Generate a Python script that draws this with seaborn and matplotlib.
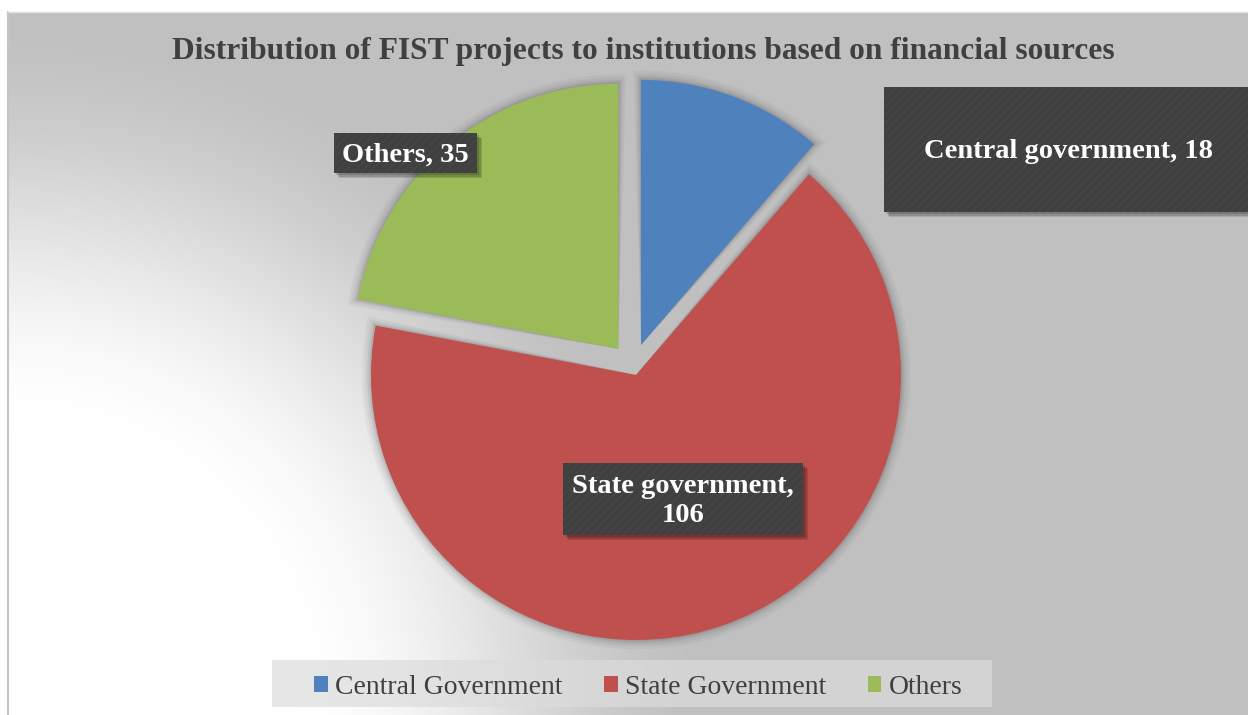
import numpy as np
import matplotlib
matplotlib.use("Agg")
import matplotlib.pyplot as plt
import seaborn as sns
from matplotlib.patches import Rectangle, Patch, Wedge

# Data
categories = ["Central Government", "State Government", "Others"]
label_names = ["Central government", "State government", "Others"]
values = [18, 106, 35]
colors = ["#4F81BD", "#C0504D", "#9BBB59"]
explode = [0.087, 0.034, 0.087]
title = "Distribution of FIST projects to institutions based on financial sources"

sns.set_theme(style="white")
plt.rcParams["font.family"] = ["Liberation Serif", "DejaVu Serif"]
plt.rcParams["hatch.linewidth"] = 0.6

W, H = 1248, 715
fig = plt.figure(figsize=(W / 100, H / 100), dpi=100)
fig.patch.set_facecolor("white")

# Background: radial fade from white (lower left) to grey
bg = fig.add_axes([0, 0, 1, 1])
bg.set_xlim(0, W)
bg.set_ylim(H, 0)
bg.axis("off")
x0b, y0b = 9, 12
yy, xx = np.mgrid[y0b:H, x0b:W] + 0.5
r = np.hypot(xx - 8, yy - H)
t = np.clip((r - 290) / 420, 0, 1)
t = t * t * (3 - 2 * t)
v = 1 - t * (1 - 0.753)
bg.imshow(np.dstack([v, v, v]), extent=(x0b, W, H, y0b), origin="upper",
          aspect="auto", interpolation="bilinear")
bg.plot([8, 8], [12, H], color="#c4c4c4", lw=1.5)
bg.plot([8, W], [11.5, 11.5], color="#e2e2e2", lw=1)

# Legend panel
bg.add_patch(Rectangle((272, 660), 720, 47, facecolor="#dcdcdc", alpha=0.7,
                       edgecolor="none"))

# Pie
cx, cy, R, half = 633, 366.5, 265, 320
ax = fig.add_axes([(cx - half) / W, (H - cy - half) / H, 2 * half / W, 2 * half / H])
wedges, _ = ax.pie(values, colors=colors, explode=explode, startangle=90,
                   counterclock=False, radius=1, wedgeprops=dict(linewidth=0))
ax.set_xlim(-half / R, half / R)
ax.set_ylim(-half / R, half / R)
ax.axis("off")
ax.patch.set_alpha(0)

# Soft shadow: stacked translucent dark wedges slightly larger than each slice
for w in wedges:
    for k, a in zip((0.035, 0.024, 0.014, 0.006), (0.035, 0.045, 0.06, 0.08)):
        sh = Wedge(w.center, w.r + k, w.theta1 - 0.8 * k * 57, w.theta2 + 0.8 * k * 57,
                   facecolor="black", alpha=a, edgecolor="none", zorder=w.get_zorder() - 1)
        ax.add_patch(sh)

# Overlay for title, data labels and legend
ov = fig.add_axes([0, 0, 1, 1])
ov.set_xlim(0, W)
ov.set_ylim(H, 0)
ov.axis("off")
ov.patch.set_alpha(0)

ov.text(643, 51, title, ha="center", va="center", fontsize=22.6,
        fontweight="bold", color="#404040")

label_boxes = [(884, 87, 1252, 212), (563, 463, 803, 535), (334, 133, 477, 173)]
label_texts = [
    f"{label_names[0]}, {values[0]}",
    f"{label_names[1]},\n{values[1]}",
    f"{label_names[2]}, {values[2]}",
]
for (bx0, by0, bx1, by1), txt in zip(label_boxes, label_texts):
    for d, a in ((5, 0.12), (3.5, 0.15), (2, 0.15)):
        ov.add_patch(Rectangle((bx0 + d, by0 + d), bx1 - bx0, by1 - by0,
                               facecolor="black", alpha=a, edgecolor="none"))
    ov.add_patch(Rectangle((bx0, by0), bx1 - bx0, by1 - by0, facecolor="#404040",
                           edgecolor="#4a4a4a", hatch="////", linewidth=0))
    ov.text((bx0 + bx1) / 2, (by0 + by1) / 2 + 2, txt, ha="center", va="center",
            fontsize=20.5, fontweight="bold", color="white", linespacing=1.2)

handles = [Patch(facecolor=c, edgecolor="none") for c in colors]
fig.legend(handles=handles, labels=categories, loc="center",
           bbox_to_anchor=(638 / W, (H - 687) / H), ncol=3, frameon=False,
           fontsize=20, handlelength=0.5, handleheight=0.5, handletextpad=0.25,
           columnspacing=1.5, labelcolor="#404040")

fig.savefig("out.png", dpi=100, facecolor="white")
